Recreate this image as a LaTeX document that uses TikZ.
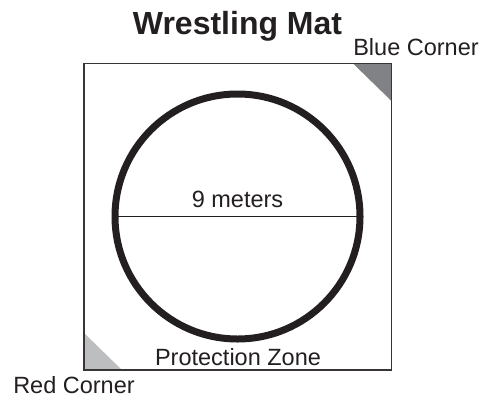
\documentclass[tikz,border=0pt]{standalone}
\usepackage{fontspec}
\setmainfont{Liberation Sans}
\definecolor{ink}{HTML}{231F20}
\definecolor{bluegray}{HTML}{808285}
\definecolor{redgray}{HTML}{BCBEC0}
\begin{document}
\begin{tikzpicture}[x=1pt,y=-1pt,line width=1.8,
    txt/.style={font=\fontsize{23.5}{28}\selectfont,text=ink,anchor=base,inner sep=0pt}]
  \useasboundingbox (0,0) rectangle (481,399);
      \coordinate (A) at (84,370);
         \coordinate (B) at (391.5,370);
           \coordinate (C) at (391.5,63.5);
             \coordinate (D) at (84,63.5);
               \coordinate (O) at (237.5,216.5);
                 \coordinate (L) at (115,216.5);
                   \coordinate (R) at (360,216.5);

  \fill[redgray] (A)--(84,333)--(122,370)--cycle;
  \fill[bluegray] (C)--(353,63.5)--(391.5,101)--cycle;
  \draw[ink!90] (A)--(B)--(C)--(D)--cycle;
  \draw[ink,line width=7] (O) circle (122.5);
  \draw[ink,line width=1.8] (L)--(R);

   \node[txt,font=\fontsize{32}{36}\selectfont\bfseries] (title) at (237.5,34) {Wrestling Mat};
   \node[txt] (blue) at (416,55.5) {Blue Corner};
   \node[txt] (red) at (74,393) {Red Corner};
   \node[txt] (diam) at (237.5,207) {9 meters};
   \node[txt] (zone) at (238,365) {Protection Zone};
   \end{tikzpicture}
\end{document}
